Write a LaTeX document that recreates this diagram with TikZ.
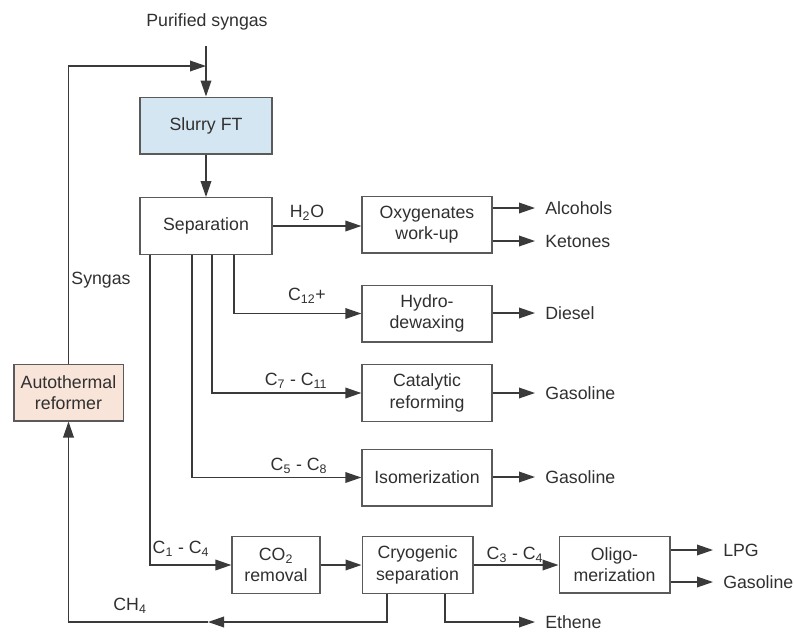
\documentclass[tikz,border=0pt]{standalone}
\usepackage{fontspec}
\setmainfont{Liberation Sans}
\usetikzlibrary{arrows.meta, positioning}
\usepackage{xcolor}
\definecolor{linegray}{HTML}{3A3A3A}
\definecolor{boxgray}{HTML}{5A5A5A}
\definecolor{txtgray}{HTML}{303030}
\definecolor{ftblue}{HTML}{D5E6F3}
\definecolor{atrpeach}{HTML}{F8E4D8}

\begin{document}
\begin{tikzpicture}[x=0.75pt, y=-0.75pt,
  every node/.style={font=\fontsize{13.3}{16}\selectfont, text=txtgray},
  box/.style={draw=boxgray, line width=1pt, minimum height=42.5pt, align=center, inner sep=1pt},
  prod/.style={anchor=west, inner sep=0pt},
  arr/.style={draw=linegray, line width=1pt, -{Triangle[length=12pt, width=8pt]}},
  ln/.style={draw=linegray, line width=1pt}]
  \useasboundingbox (0,0) rectangle (794,633);

  % process boxes
  \node[box, fill=ftblue, minimum width=99pt] (slurry) at (206,125.5) {Slurry FT};
  \node[box, minimum width=99pt] (sep) at (206,226) {Separation};
  \node[box, minimum width=97.5pt] (oxy) at (427,224.5) {Oxygenates\\work-up};
  \node[box, minimum width=97.5pt] (hydro) at (427,313.5) {Hydro-\\dewaxing};
  \node[box, minimum width=97.5pt] (cat) at (427,393) {Catalytic\\reforming};
  \node[box, minimum width=97.5pt] (iso) at (427,477.5) {Isomerization};
  \node[box, minimum width=66pt] (co2) at (276,565) {CO\textsubscript{2}\\removal};
  \node[box, minimum width=83pt] (cryo) at (417.5,565) {Cryogenic\\separation};
  \node[box, minimum width=83pt] (oligo) at (614.5,564.5) {Oligo-\\merization};
  \node[box, fill=atrpeach, minimum width=82pt] (atr) at (68.5,392.5) {Autothermal\\reformer};

  % feed and recycle
  \node (purified) at (207,22) {Purified syngas};
  \coordinate (feed) at (206,46);
  \coordinate (join) at (206,66);
  \draw[arr] (feed) -- (slurry.north);
  \draw[arr] (atr.north) |- (join);
  \node (syngas) at (101,280) {Syngas};
  \draw[arr] (slurry.south) -- (sep.north);

  % cuts from separation
  \draw[arr] (sep.east) -- (sep.east -| oxy.west);
  \node (h2o) at (307,213) {H\textsubscript{2}O};
  \draw[arr] (sep.south -| 234,0) |- (hydro.west);
  \node (c12) at (307,296) {C\textsubscript{12}+};
  \draw[arr] (sep.south -| 212,0) |- (cat.west);
  \node (c7) at (296,381) {C\textsubscript{7} - C\textsubscript{11}};
  \draw[arr] (sep.south -| 192,0) |- (iso.west);
  \node (c5) at (299,466) {C\textsubscript{5} - C\textsubscript{8}};
  \draw[arr] (sep.south -| 150,0) |- (co2.west);
  \node (c1) at (181,549) {C\textsubscript{1} - C\textsubscript{4}};

  % light gas line
  \draw[arr] (co2.east) -- (cryo.west);
  \draw[arr] (cryo.east) -- (cryo.east -| oligo.west);
  \node (c3) at (515,555) {C\textsubscript{3} - C\textsubscript{4}};
  \coordinate (ch4mid) at (208,622);
  \draw[arr] (cryo.south -| 387,0) |- (ch4mid);
  \draw[arr] (ch4mid) -| (atr.south);
  \node (ch4) at (130,606) {CH\textsubscript{4}};

  % products
  \node[prod] (alc) at (545,208) {Alcohols};
  \node[prod] (ket) at (545,241) {Ketones};
  \node[prod] (dies) at (545,313) {Diesel};
  \node[prod] (gas1) at (545,393) {Gasoline};
  \node[prod] (gas2) at (545,477) {Gasoline};
  \node[prod] (lpg) at (723,550) {LPG};
  \node[prod] (gas3) at (723,582) {Gasoline};
  \node[prod] (eth) at (545,622) {Ethene};
  \draw[arr] (oxy.east |- alc) -- ([xshift=-7.5pt]alc.west);
  \draw[arr] (oxy.east |- ket) -- ([xshift=-7.5pt]ket.west);
  \draw[arr] (hydro.east |- dies) -- ([xshift=-7.5pt]dies.west);
  \draw[arr] (cat.east |- gas1) -- ([xshift=-7.5pt]gas1.west);
  \draw[arr] (iso.east |- gas2) -- ([xshift=-7.5pt]gas2.west);
  \draw[arr] (oligo.east |- lpg) -- ([xshift=-7.5pt]lpg.west);
  \draw[arr] (oligo.east |- gas3) -- ([xshift=-7.5pt]gas3.west);
  \draw[arr] (cryo.south -| 445,0) |- ([xshift=-7.5pt]eth.west);
\end{tikzpicture}
\end{document}
